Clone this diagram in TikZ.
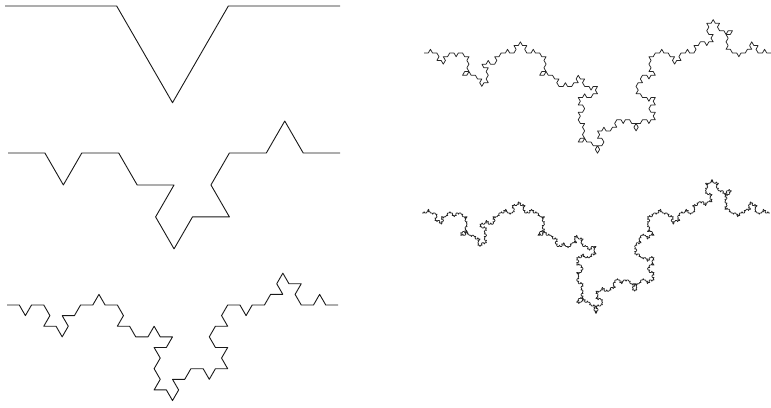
\documentclass[tikz,border=0pt]{standalone}
\makeatletter
% signs of the bumps: -1 = clockwise (bump to the right of travel), 1 = counter-clockwise
\def\kSone#1{\ifcase#1 -1\or 1\or -1\or 1\fi}
\def\kStwo#1{\ifcase#1 -1\or -1\or 1\or 1\or -1\or 1\or -1\or -1\or 1\or -1\or -1\or -1\or -1\or -1\or 1\or 1\fi}
\def\kgetsign#1#2{%
  \ifcase#1\relax \def\ks{-1}%
  \or \edef\ks{\kSone{#2}}%
  \or \edef\ks{\kStwo{#2}}%
  \else
    \edef\kr{\the\numexpr (#2)*97+(#1)*31+17\relax}%
    \edef\kr{\the\numexpr \kr-(\kr/1009)*1009\relax}%
    \edef\kr{\the\numexpr \kr*\kr+3*\kr+(#1)*7+11\relax}%
    \edef\kr{\the\numexpr \kr-(\kr/1013)*1013\relax}%
    \ifnum\kr>0 \def\ks{1}\else\def\ks{-1}\fi
  \fi}
\def\kochseg#1#2#3{% depth, index, angle
  \ifnum#1=\klevel\relax
    \xdef\kpath{\unexpanded\expandafter{\kpath}--++(#3:\klen)}%
  \else
    \begingroup
    \kgetsign{#1}{#2}%
    \ifnum\ks>0
      \edef\ka{\the\numexpr#3+60\relax}\edef\kb{\the\numexpr#3-60\relax}%
    \else
      \edef\ka{\the\numexpr#3-60\relax}\edef\kb{\the\numexpr#3+60\relax}%
    \fi
    \edef\knext{%
      \noexpand\kochseg{\the\numexpr#1+1\relax}{\the\numexpr4*(#2)\relax}{#3}%
      \noexpand\kochseg{\the\numexpr#1+1\relax}{\the\numexpr4*(#2)+1\relax}{\ka}%
      \noexpand\kochseg{\the\numexpr#1+1\relax}{\the\numexpr4*(#2)+2\relax}{\kb}%
      \noexpand\kochseg{\the\numexpr#1+1\relax}{\the\numexpr4*(#2)+3\relax}{#3}}%
    \expandafter\endgroup\knext
  \fi}
% level, segment length, start coordinate name, style
\def\kochcurve#1#2#3#4{%
  \def\klevel{#1}\def\klen{#2}\gdef\kpath{}%
  \kochseg{0}{0}{0}%
  \edef\kdo{\noexpand\draw[#4] (#3) \unexpanded\expandafter{\kpath};}%
  \kdo}
\makeatother
\begin{document}
\begin{tikzpicture}[x=1pt,y=1pt,
  coarse/.style={line width=0.9pt,draw=black!90,line join=round},
  fine/.style={line width=0.75pt,draw=black!85,line join=round}]
\useasboundingbox (0,0) rectangle (771,407);
\fill[white] (0,0) rectangle (771,407);
\coordinate (s1) at (5,401);
\coordinate (s2) at (8,254);
\coordinate (s3) at (7,102);
\coordinate (s4) at (424,354);
\coordinate (s5) at (422,194);
\kochcurve{1}{111.67}{s1}{coarse}
\kochcurve{2}{36.9}{s2}{coarse}
\kochcurve{3}{12.26}{s3}{coarse}
\kochcurve{4}{4.284}{s4}{fine}
\kochcurve{5}{1.432}{s5}{fine}
\end{tikzpicture}
\end{document}
